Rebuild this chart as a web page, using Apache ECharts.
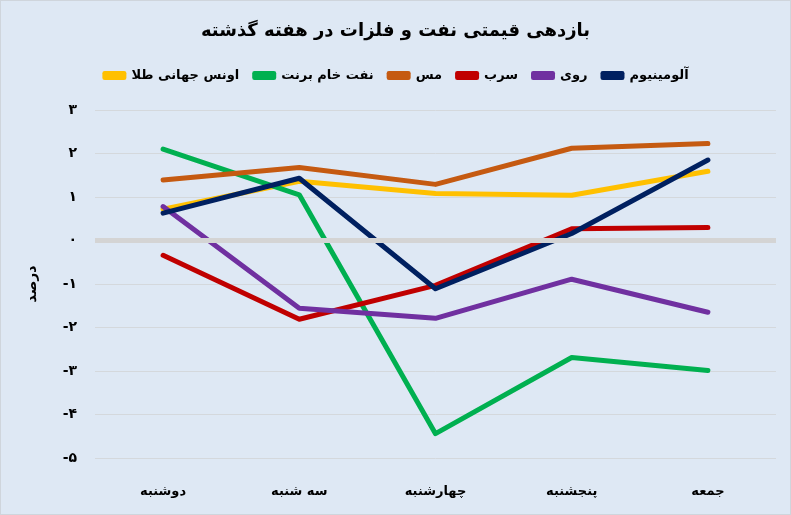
<!DOCTYPE html>
<html>
<head>
<meta charset="utf-8">
<script src="https://cdn.jsdelivr.net/npm/echarts@6/dist/echarts.min.js"></script>
<style>
  html, body { margin: 0; padding: 0; background: #fff; }
  #chart { width: 791px; height: 515px; box-sizing: border-box; border: 1px solid #cfd5dc; }
</style>
</head>
<body>
<div id="chart"></div>
<script>
// داده‌ها
var days = ['دوشنبه', 'سه شنبه', 'چهارشنبه', 'پنجشنبه', 'جمعه'];
var gold = [0.72, 1.36, 1.08, 1.04, 1.59];
var brent = [2.10, 1.05, -4.44, -2.69, -2.99];
var copper = [1.39, 1.68, 1.29, 2.12, 2.23];
var lead = [-0.34, -1.81, -1.03, 0.27, 0.30];
var zinc = [0.78, -1.56, -1.79, -0.89, -1.65];
var aluminium = [0.63, 1.43, -1.11, 0.16, 1.85];
// برچسب‌های محور عمودی از -5 تا 3
var yTicks = ['-۵', '-۴', '-۳', '-۲', '-۱', '۰', '۱', '۲', '۳'];

var names = ['اونس جهانی طلا', 'نفت خام برنت', 'مس', 'سرب', 'روی', 'آلومینیوم'];
var colors = ['#FFC000', '#00B050', '#C55A11', '#C00000', '#7030A0', '#002060'];
var values = [gold, brent, copper, lead, zinc, aluminium];

var font = 'DejaVu Sans';
var chart = echarts.init(document.getElementById('chart'));

var series = [{
    // خط صفر
    type: 'line',
    data: [],
    z: 1,
    silent: true,
    markLine: {
        silent: true,
        symbol: 'none',
        label: {show: false},
        lineStyle: {color: '#d4d4d4', width: 5, type: 'solid'},
        data: [{yAxis: 0}]
    }
}];
names.forEach(function (n, i) {
    series.push({
        name: n,
        type: 'line',
        data: values[i],
        showSymbol: false,
        symbol: 'none',
        z: 3,
        lineStyle: {color: colors[i], width: 5, cap: 'round', join: 'round'},
        itemStyle: {color: colors[i]}
    });
});

chart.setOption({
    backgroundColor: '#DEE8F4',
    animation: false,
    title: {
        text: 'بازدهی قیمتی نفت و فلزات در هفته گذشته',
        left: 'center',
        top: 16,
        textStyle: {fontFamily: font, fontSize: 18, fontWeight: 'bold', color: '#000'}
    },
    legend: {
        data: names,
        left: 'center',
        top: 63,
        itemWidth: 24,
        itemHeight: 9,
        itemGap: 13,
        icon: 'roundRect',
        textStyle: {fontFamily: font, fontSize: 13, fontWeight: 'bold', color: '#000'}
    },
    grid: {left: 94, right: 14, top: 109, bottom: 56},
    xAxis: {
        type: 'category',
        data: days,
        boundaryGap: true,
        axisLine: {show: false},
        axisTick: {show: false},
        axisLabel: {
            margin: 27,
            fontFamily: font, fontSize: 13, fontWeight: 'bold', color: '#000'
        }
    },
    yAxis: {
        type: 'value',
        min: -5,
        max: 3,
        interval: 1,
        name: 'درصد',
        nameLocation: 'middle',
        nameRotate: 90,
        nameGap: 56,
        nameTextStyle: {fontFamily: font, fontSize: 14, fontWeight: 'bold', color: '#000'},
        axisLine: {show: false},
        axisTick: {show: false},
        splitLine: {lineStyle: {color: '#d4d8dc', width: 1}},
        axisLabel: {
            margin: 18,
            fontFamily: font, fontSize: 14, fontWeight: 'bold', color: '#000',
            formatter: function (v) { return yTicks[v + 5]; }
        }
    },
    series: series
});
</script>
</body>
</html>
